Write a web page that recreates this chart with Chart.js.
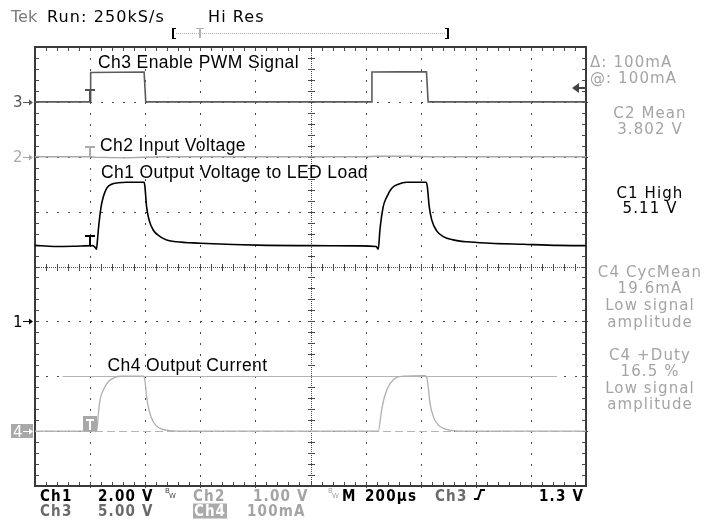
<!DOCTYPE html>
<html>
<head>
<meta charset="utf-8">
<title>Tek capture - LED driver PWM dimming</title>
<script src="https://cdn.jsdelivr.net/npm/chart.js@4.4.0/dist/chart.umd.min.js"></script>
<style>
  html, body { margin: 0; padding: 0; background: #fff; }
  #scope { position: relative; width: 707px; height: 521px; overflow: hidden; }
  #scope canvas { position: absolute; left: 0; top: 0; }
  .t { position: absolute; white-space: nowrap; line-height: 1; transform: translateY(-50%); }
  .hdr { font-family: "DejaVu Sans", sans-serif; font-size: 16px; letter-spacing: 1.1px; color: #000; }
  .lbl { font-family: "Liberation Sans", Arial, sans-serif; font-size: 17.5px; letter-spacing: 0.4px; color: #000; }
  .meas { font-family: "DejaVu Sans", sans-serif; font-size: 15px; letter-spacing: 1.1px; color: #a4a4a4; }
  .ctr { left: 590px; width: 120px; text-align: center; }
  .foot { font-family: "DejaVu Sans Condensed", "DejaVu Sans", sans-serif; font-size: 15px; font-weight: bold; letter-spacing: 1.2px; color: #000; }
  .mk { font-family: "DejaVu Sans", sans-serif; font-size: 15px; }
  .bw { font-family: "DejaVu Sans", sans-serif; font-size: 7px; position: absolute; line-height: 1; }
  .g { color: #a4a4a4; }
  .g3 { color: #6a6a6a; }
</style>
</head>
<body>
<div id="scope">
  <canvas id="scopeCanvas" width="707" height="521"></canvas>

  <!-- header -->
  <div class="t hdr" style="left:11px; top:16.5px; color:#7a7a7a; letter-spacing:0;">Tek</div>
  <div class="t hdr" style="left:47px; top:16.5px;">Run: 250kS/s</div>
  <div class="t hdr" style="left:208px; top:16.5px;">Hi Res</div>

  <!-- channel reference markers -->
  <div class="t mk" style="left:13px; top:101.7px; color:#555;">3</div>
  <div class="t mk" style="left:13px; top:156.7px; color:#aaa;">2</div>
  <div class="t mk" style="left:13px; top:321.7px; color:#000;">1</div>
  <div class="t mk" style="left:13px; top:431.5px; color:#fff;">4</div>

  <!-- trace labels -->
  <div class="t lbl" style="left:98px; top:62.5px;">Ch3 Enable PWM Signal</div>
  <div class="t lbl" style="left:100px; top:145.8px;">Ch2 Input Voltage</div>
  <div class="t lbl" style="left:101px; top:172.5px;">Ch1 Output Voltage to LED Load</div>
  <div class="t lbl" style="left:107.5px; top:365.8px;">Ch4 Output Current</div>

  <!-- measurement panel -->
  <div class="t meas" style="left:590px; top:62.3px;">&Delta;: 100mA</div>
  <div class="t meas" style="left:590px; top:78px;">@: 100mA</div>
  <div class="t meas ctr" style="top:112.8px;">C2 Mean</div>
  <div class="t meas ctr" style="top:129px;">3.802 V</div>
  <div class="t meas ctr" style="top:192.5px; color:#000;">C1 High</div>
  <div class="t meas ctr" style="top:207.8px; color:#000;">5.11 V</div>
  <div class="t meas ctr" style="top:271.5px;">C4 CycMean</div>
  <div class="t meas ctr" style="top:287.5px;">19.6mA</div>
  <div class="t meas ctr" style="top:304.5px;">Low signal</div>
  <div class="t meas ctr" style="top:321.5px;">amplitude</div>
  <div class="t meas ctr" style="top:354.5px;">C4 +Duty</div>
  <div class="t meas ctr" style="top:370.5px;">16.5 %</div>
  <div class="t meas ctr" style="top:387.5px;">Low signal</div>
  <div class="t meas ctr" style="top:403.5px;">amplitude</div>

  <!-- bottom settings readout -->
  <div class="t foot" style="left:40px; top:495.7px;">Ch1</div>
  <div class="t foot" style="left:98px; top:495.7px;">2.00 V</div>
  <div class="bw" style="left:165px; top:488px; color:#444;">B</div>
  <div class="bw" style="left:169px; top:493px; color:#444;">W</div>
  <div class="t foot g" style="left:193px; top:495.7px;">Ch2</div>
  <div class="t foot g" style="left:253px; top:495.7px;">1.00 V</div>
  <div class="bw g" style="left:328px; top:488px;">B</div>
  <div class="bw g" style="left:332px; top:493px;">W</div>
  <div class="t foot" style="left:342px; top:495.7px;">M</div>
  <div class="t foot" style="left:365px; top:495.7px;">200µs</div>
  <div class="t foot g3" style="left:435px; top:495.7px;">Ch3</div>
  <div class="t foot" style="left:539px; top:495.7px;">1.3 V</div>
  <div class="t foot g3" style="left:40px; top:511px;">Ch3</div>
  <div class="t foot g3" style="left:98px; top:511px;">5.00 V</div>
  <div class="t foot" style="left:193px; top:511px; background:#aaa; color:#fff; padding:0 1px 0 1px; letter-spacing:1px;">Ch4</div>
  <div class="t foot g" style="left:247px; top:511px;">100mA</div>
</div>

<script>
// ---- Timebase: 200 us/div, trigger one division from the left ----
const timeMin = -200;
const timeMax = 1800;

// ---- Channel settings (Ch1..Ch4) ----
const channelNames = ['Ch1', 'Ch2', 'Ch3', 'Ch4'];
const unitsPerDiv = [2, 1, 5, 100];        // V, V, V, mA
const markerDiv = [-1, 2, 3, -3];          // reference marker, divisions above centre
const markerLevel = [0, 3.8, 0, 0];        // value at the marker (Ch2 offset)
const traceColors = ['#000000', '#a8a8a8', '#5c5c5c', '#b0b0b0'];

// ---- Trigger / cursors ----
const triggerLevelCh3 = 1.3;               // V
const ch4Cursors = [100, 0];               // mA
const cursorSpan = [-100, 1695];           // us

// ---- Ch1 output voltage to LED load (V) ----
const ch1Time = [-200, -130, -60, 10, 18, 23, 27, 31, 40, 48, 60, 78, 102, 133, 196, 199, 205, 214, 229, 254,
  278, 314, 399, 519, 641, 798, 980, 1038, 1042, 1046, 1052, 1064, 1077, 1095, 1119, 1149, 1219, 1224, 1231,
  1240, 1258, 1282, 1318, 1367, 1452, 1572, 1700, 1800];
const ch1Volts = [2.77, 2.73, 2.74, 2.76, 2.70, 2.63, 3.00, 3.45, 4.18, 4.54, 4.85, 5.00, 5.05, 5.07, 5.07, 4.91,
  4.18, 3.70, 3.33, 3.09, 2.97, 2.90, 2.85, 2.80, 2.77, 2.76, 2.75, 2.73, 2.68, 2.63, 3.33, 4.18, 4.54, 4.85,
  5.00, 5.07, 5.07, 4.91, 4.18, 3.70, 3.30, 3.09, 2.97, 2.90, 2.85, 2.81, 2.77, 2.76];

// ---- Ch2 input voltage (V) ----
const ch2Time = [-200, 0, 20, 120, 200, 260, 1000, 1040, 1150, 1230, 1800];
const ch2Volts = [3.80, 3.80, 3.79, 3.78, 3.79, 3.80, 3.80, 3.81, 3.81, 3.80, 3.80];

// ---- Ch3 enable PWM signal (V) ----
const ch3Time = [-200, 0, 2, 100, 196, 202, 1020, 1023, 1120, 1221, 1227, 1800];
const ch3Volts = [0, 0, 2.68, 2.70, 2.71, 0, 0, 2.72, 2.73, 2.73, 0, 0];

// ---- Ch4 output current (mA) ----
const ch4Time = [-200, 20, 24, 30, 36, 48, 66, 90, 115, 193, 199, 205, 214, 229, 254, 290, 351, 1046, 1058,
  1070, 1089, 1113, 1137, 1216, 1224, 1234, 1246, 1264, 1294, 1343, 1800];
const ch4mA = [0, 0, 0, 32, 57, 75, 90, 98, 100, 100, 93, 63, 38, 17, 5, 1, 0, 0, 38, 65, 87, 98, 100, 101, 93,
  50, 26, 11, 3, 0, 0];

const toPoints = (xs, ys) => xs.map((x, i) => ({ x, y: ys[i] }));
const axisId = i => 'y' + channelNames[i];

function channelScale(i) {
  return {
    type: 'linear',
    display: false,
    min: markerLevel[i] - (4 + markerDiv[i]) * unitsPerDiv[i],
    max: markerLevel[i] + (4 - markerDiv[i]) * unitsPerDiv[i]
  };
}

// Graticule: dotted divisions, centre cross with ticks, frame, Ch4 cursors
const graticule = {
  id: 'graticule',
  beforeDatasetsDraw(chart) {
    const { ctx, chartArea: a, scales } = chart;
    const dx = (a.right - a.left) / 10;
    const dy = (a.bottom - a.top) / 8;
    ctx.save();
    ctx.fillStyle = '#4a4a4a';
    for (let i = 1; i < 10; i++) {
      if (i === 5) continue;
      const px = Math.round(a.left + i * dx);
      for (let k = 0; k <= 40; k++) ctx.fillRect(px, Math.round(a.top + k * dy / 5), 1, 2);
    }
    for (let j = 1; j < 8; j++) {
      if (j === 4) continue;
      const py = Math.round(a.top + j * dy);
      for (let k = 0; k <= 50; k++) ctx.fillRect(Math.round(a.left + k * dx / 5), py, 2, 1);
    }
    const cx = Math.round(a.left + 5 * dx);
    const cy = Math.round(a.top + 4 * dy);
    for (let y = a.top; y < a.bottom; y += 2) ctx.fillRect(cx, y, 1, 1);
    for (let x = a.left; x < a.right; x += 2) ctx.fillRect(x, cy, 1, 1);
    for (let k = 0; k <= 40; k++) ctx.fillRect(cx - 3, Math.round(a.top + k * dy / 5), 7, 1);
    for (let k = 0; k <= 50; k++) ctx.fillRect(Math.round(a.left + k * dx / 5), cy - 3, 1, 7);
    for (let k = 0; k <= 50; k++) {
      const x = Math.round(a.left + k * dx / 5);
      ctx.fillRect(x, a.top, 1, 4);
      ctx.fillRect(x, a.bottom - 4, 1, 4);
    }
    for (let k = 0; k <= 40; k++) {
      const y = Math.round(a.top + k * dy / 5);
      ctx.fillRect(a.left, y, 4, 1);
      ctx.fillRect(a.right - 4, y, 4, 1);
    }
    ctx.strokeStyle = '#3a3a3a';
    ctx.lineWidth = 2;
    ctx.strokeRect(a.left, a.top, a.right - a.left, a.bottom - a.top);

    // Ch4 horizontal cursors
    const y4 = scales[axisId(3)];
    ctx.strokeStyle = '#b4b4b4';
    ctx.lineWidth = 1.2;
    let py = Math.round(y4.getPixelForValue(ch4Cursors[0])) + 0.5;
    ctx.beginPath();
    ctx.moveTo(scales.x.getPixelForValue(cursorSpan[0]), py);
    ctx.lineTo(scales.x.getPixelForValue(cursorSpan[1]), py);
    ctx.stroke();
    py = Math.round(y4.getPixelForValue(ch4Cursors[1])) + 0.5;
    ctx.setLineDash([8, 4]);
    ctx.beginPath();
    ctx.moveTo(a.left, py);
    ctx.lineTo(a.right, py);
    ctx.stroke();
    ctx.restore();
  }
};

// Trigger "T" marks, reference arrows, trigger level arrow, record bracket
const scopeMarks = {
  id: 'scopeMarks',
  afterDatasetsDraw(chart) {
    const { ctx, scales } = chart;
    const tx = Math.round(scales.x.getPixelForValue(0));
    ctx.save();

    const drawT = (x, yb, color, h) => {
      ctx.fillStyle = color;
      ctx.fillRect(x - 5, yb - h, 10, 2);
      ctx.fillRect(x - 1, yb - h, 2, h);
    };
    const arrowRight = (x0, x1, y, color) => {
      ctx.fillStyle = color;
      ctx.fillRect(x0, y, x1 - x0 - 3, 1);
      ctx.beginPath();
      ctx.moveTo(x1, y + 0.5);
      ctx.lineTo(x1 - 4, y - 2.5);
      ctx.lineTo(x1 - 4, y + 3.5);
      ctx.closePath();
      ctx.fill();
    };

    // trigger marks on each trace
    drawT(tx, Math.round(scales.yCh3.getPixelForValue(ch3Volts[1])), '#505050', 13);
    drawT(tx, Math.round(scales.yCh2.getPixelForValue(ch2Volts[1])), '#ababab', 11);
    drawT(tx, Math.round(scales.yCh1.getPixelForValue(ch1Volts[3])), '#000', 11);
    const y4 = Math.round(scales.yCh4.getPixelForValue(0));
    ctx.fillStyle = '#a8a8a8';
    ctx.fillRect(tx - 7, y4 - 15, 14, 15);
    ctx.fillStyle = '#fff';
    ctx.fillRect(tx - 4, y4 - 12, 8, 2);
    ctx.fillRect(tx - 1, y4 - 12, 2, 11);

    // channel reference arrows on the left
    const refColors = ['#000', '#a8a8a8', '#555', '#fff'];
    for (let i = 0; i < 4; i++) {
      const y = Math.round(scales[axisId(i)].getPixelForValue(markerLevel[i]));
      if (i === 3) {
        ctx.fillStyle = '#a8a8a8';
        ctx.fillRect(11, y - 7, 22, 14);
      }
      arrowRight(23, 33, y, refColors[i]);
    }

    // trigger level arrow on the right edge
    const yl = Math.round(scales.yCh3.getPixelForValue(triggerLevelCh3));
    ctx.fillStyle = '#444';
    ctx.fillRect(578, yl - 1, 8, 2);
    ctx.beginPath();
    ctx.moveTo(572, yl);
    ctx.lineTo(579, yl - 5);
    ctx.lineTo(579, yl + 5);
    ctx.closePath();
    ctx.fill();

    // record view bracket at the top
    ctx.fillStyle = '#000';
    ctx.fillRect(172, 28, 2, 11);
    ctx.fillRect(172, 28, 4, 1);
    ctx.fillRect(172, 38, 4, 1);
    ctx.fillRect(447, 28, 2, 11);
    ctx.fillRect(445, 28, 4, 1);
    ctx.fillRect(445, 38, 4, 1);
    ctx.fillStyle = '#b0b0b0';
    for (let x = 176; x < 445; x += 2) ctx.fillRect(x, 33, 1, 1);
    ctx.fillRect(196, 28, 8, 1);
    ctx.fillRect(199, 28, 2, 10);

    // rising edge trigger symbol in the readout
    ctx.strokeStyle = '#000';
    ctx.lineWidth = 2;
    ctx.beginPath();
    ctx.moveTo(474, 499);
    ctx.lineTo(478, 499);
    ctx.lineTo(481, 490);
    ctx.lineTo(485, 490);
    ctx.stroke();
    ctx.restore();
  }
};

const scales = { x: { type: 'linear', display: false, min: timeMin, max: timeMax } };
channelNames.forEach((n, i) => { scales[axisId(i)] = channelScale(i); });

new Chart(document.getElementById('scopeCanvas'), {
  type: 'line',
  data: {
    datasets: [
      { label: 'Ch1', data: toPoints(ch1Time, ch1Volts), yAxisID: 'yCh1', borderColor: traceColors[0],
        borderWidth: 1.6, cubicInterpolationMode: 'monotone' },
      { label: 'Ch3', data: toPoints(ch3Time, ch3Volts), yAxisID: 'yCh3', borderColor: traceColors[2],
        borderWidth: 1.6, tension: 0 },
      { label: 'Ch2', data: toPoints(ch2Time, ch2Volts), yAxisID: 'yCh2', borderColor: traceColors[1],
        borderWidth: 1.4, tension: 0 },
      { label: 'Ch4', data: toPoints(ch4Time, ch4mA), yAxisID: 'yCh4', borderColor: traceColors[3],
        borderWidth: 1.3, cubicInterpolationMode: 'monotone' }
    ]
  },
  options: {
    responsive: false,
    animation: false,
    devicePixelRatio: 1,
    layout: { padding: { left: 35, top: 47, right: 121, bottom: 35 } },
    elements: { point: { radius: 0 } },
    plugins: { legend: { display: false }, tooltip: { enabled: false } },
    scales
  },
  plugins: [graticule, scopeMarks]
});
</script>
</body>
</html>
